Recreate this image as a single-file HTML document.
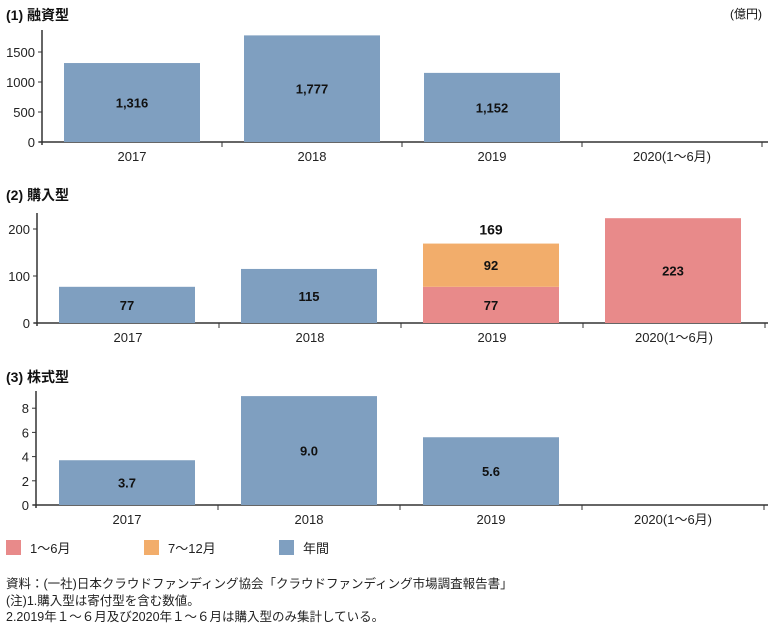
<!DOCTYPE html>
<html><head><meta charset="utf-8"><style>
body{margin:0;background:#fff;width:768px;height:623px;overflow:hidden;font-family:"Liberation Sans","Noto Sans CJK JP",sans-serif}
svg text{font-family:"Liberation Sans","Noto Sans CJK JP",sans-serif}
</style></head><body>
<svg id="c" width="768" height="623" xmlns="http://www.w3.org/2000/svg">
<text x="6" y="20" font-size="14" font-weight="bold" fill="#111">(1) 融資型</text>
<text x="762" y="18" font-size="12" text-anchor="end" fill="#111">(億円)</text>
<text x="6" y="200" font-size="14" font-weight="bold" fill="#111">(2) 購入型</text>
<text x="6" y="382" font-size="14" font-weight="bold" fill="#111">(3) 株式型</text>
<g>
<rect x="6" y="540" width="15" height="15" fill="#e88a8a"/>
<text x="30" y="553" font-size="13" fill="#222">1～6月</text>
<rect x="144" y="540" width="15" height="15" fill="#f2ad6b"/>
<text x="168" y="553" font-size="13" fill="#222">7～12月</text>
<rect x="279" y="540" width="15" height="15" fill="#7f9fc0"/>
<text x="303" y="553" font-size="13" fill="#222">年間</text>
</g>
<text x="6" y="588" font-size="12.5" fill="#222">資料：(一社)日本クラウドファンディング協会「クラウドファンディング市場調査報告書」</text>
<text x="6" y="605" font-size="12.5" fill="#222">(注)1.購入型は寄付型を含む数値。</text>
<text x="6" y="621" font-size="12.5" fill="#222">2.2019年１～６月及び2020年１～６月は購入型のみ集計している。</text>
</svg>
<script>
const categories=["2017","2018","2019","2020(1～6月)"];
const lendingAnnual=[1316,1777,1152,null];
const lendingLabels=["1,316","1,777","1,152",""];
const lendingTicks=[0,500,1000,1500];
const purchaseAnnual=[77,115,null,null];
const purchaseH1=[null,null,77,223];
const purchaseH2=[null,null,92,null];
const purchaseTotals=[null,null,169,null];
const purchaseTicks=[0,100,200];
const equityAnnual=[3.7,9.0,5.6,null];
const equityLabels=["3.7","9.0","5.6",""];
const equityTicks=[0,2,4,6,8];
const NS="http://www.w3.org/2000/svg";
const svg=document.getElementById('c');
function mk(t,a,txt){const e=document.createElementNS(NS,t);for(const k in a)e.setAttribute(k,a[k]);if(txt!=null)e.textContent=txt;svg.appendChild(e);return e;}
const C={blue:"#7f9fc0",red:"#e88a8a",orange:"#f2ad6b"};
function panel(id,cfg){
  const band=cfg.band,x0=cfg.x0,base=cfg.base;
  const y=v=>base-v*cfg.scale;
  const xb=i=>x0+i*band+(band-136)/2-cfg.off;
  let e=mk('line',{x1:x0,y1:cfg.top,x2:x0,y2:base+3,stroke:'#333','stroke-width':1.5});
  
  
  e=mk('line',{x1:x0-3,y1:base,x2:768,y2:base,stroke:'#333','stroke-width':1.5});
  
  
  cfg.ticks.forEach(t=>{
    let l=mk('line',{x1:x0-4,y1:y(t),x2:x0,y2:y(t),stroke:'#333'});
    
    
    let tx=mk('text',{x:x0-7,y:y(t)+5,'font-size':13,'text-anchor':'end',fill:'#222'},String(t));
    
    
  });
  categories.forEach((c,i)=>{
    let l=mk('line',{x1:x0+(i+1)*band,y1:base,x2:x0+(i+1)*band,y2:base+5,stroke:'#333'});
    
    
    let tx=mk('text',{x:x0+i*band+band/2,y:base+19,'font-size':13,'text-anchor':'middle',fill:'#222'},c);
    
    
  });
  cfg.series.forEach(s=>{
    s.vals.forEach((v,i)=>{
      if(v==null)return;
      let b0=s.below?(s.below[i]||0):0;
      let r=mk('rect',{x:xb(i),y:y(b0+v),width:136,height:v*cfg.scale,fill:s.color});
      
      
      let lab=s.labels?s.labels[i]:String(v);
      let tx=mk('text',{x:xb(i)+68,y:y(b0+v/2)+5,'font-size':13,'font-weight':'bold','text-anchor':'middle',fill:'#111'},lab);
      
      
    });
  });
  if(cfg.totals)cfg.totals.forEach((v,i)=>{
    if(v==null)return;
    let tx=mk('text',{x:xb(i)+68,y:y(v)-9,'font-size':14,'font-weight':'bold','text-anchor':'middle',fill:'#111'},String(v));
    
    
  });
}
panel('lending',{x0:42,band:180,base:142,top:30,scale:30/500,off:0,ticks:lendingTicks,
  series:[{name:'annual',vals:lendingAnnual,color:C.blue,labels:lendingLabels}]});
panel('purchase',{x0:37,band:182,base:323,top:213,scale:0.47,off:1,ticks:purchaseTicks,totals:purchaseTotals,
  series:[{name:'annual',vals:purchaseAnnual,color:C.blue},{name:'h1',vals:purchaseH1,color:C.red},{name:'h2',vals:purchaseH2,color:C.orange,below:purchaseH1}]});
panel('equity',{x0:36,band:182,base:505,top:391,scale:12.1,off:0,ticks:equityTicks,
  series:[{name:'annual',vals:equityAnnual,color:C.blue,labels:equityLabels}]});
</script>
</body></html>
